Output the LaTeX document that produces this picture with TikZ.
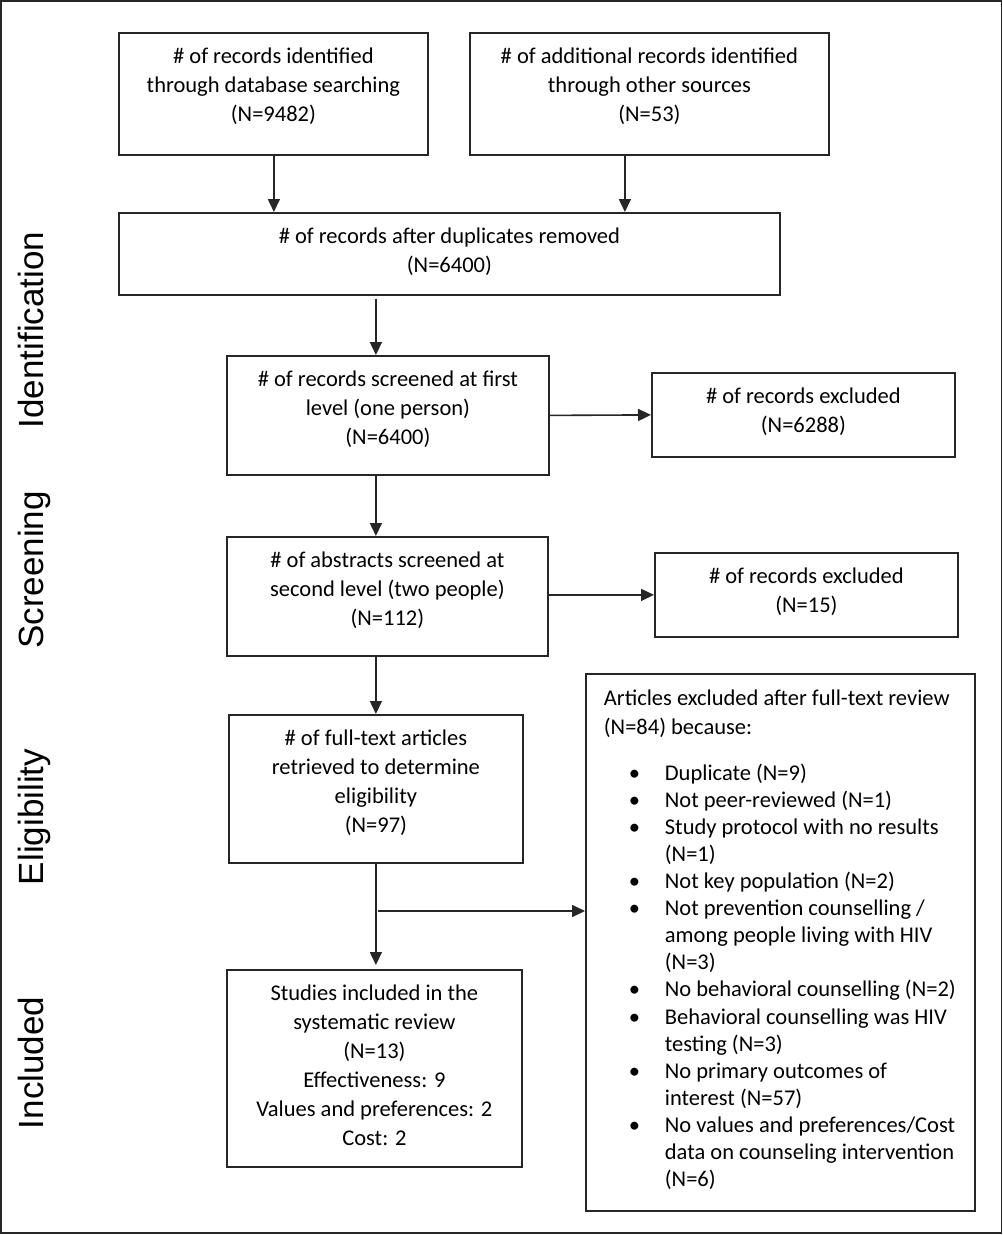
\documentclass[tikz,border=0pt]{standalone}
\usepackage{fontspec}
\setmainfont{Carlito}
\newfontfamily\sidefont{Liberation Sans}
\usetikzlibrary{arrows.meta,calc}
\newcommand\bxt[4]{\begin{minipage}[t][#2][t]{#1}\fontsize{22.5}{29}\selectfont\centering\vspace*{#3}\strut #4\end{minipage}}
\newcommand\bul{\makebox[36pt][l]{•}}
\begin{document}
\begin{tikzpicture}[x=1pt,y=-1pt,
  frame/.style={draw=black!85,line width=1.8pt},
  box/.style={draw=black!85,line width=1.8pt,rectangle,inner sep=0pt,anchor=north west},
  arr/.style={draw=black!85,line width=1.6pt,-{Triangle[length=13pt,width=12pt]}},
  side/.style={font=\sidefont\fontsize{35}{40}\selectfont,rotate=90,anchor=base,inner sep=0pt}]
\useasboundingbox (0,0) rectangle (1003,1235);
\draw[frame] (1,1) rectangle (1001.5,1233);
% side labels
\node[side] (lid) at (43,330) {Identification};
\node[side] (lsc) at (43,570) {Screening};
\node[side] (lel) at (43,817) {Eligibility};
\node[side] (lin) at (43,1063) {Included};
% boxes
\node[box] (b1) at (118,32) {\bxt{309pt}{122pt}{10pt}{\# of records identified\\through database searching\\(N=9482)}};
\node[box] (b2) at (469,32) {\bxt{359pt}{122pt}{10pt}{\# of additional records identified\\through other sources\\(N=53)}};
\node[box] (b3) at (118,212) {\bxt{661pt}{82pt}{10pt}{\# of records after duplicates removed\\(N=6400)}};
\node[box] (b4) at (226,355) {\bxt{322pt}{119pt}{10pt}{\# of records screened at first\\level (one person)\\(N=6400)}};
\node[box] (e1) at (651,372) {\bxt{303pt}{84pt}{10pt}{\# of records excluded\\(N=6288)}};
\node[box] (b5) at (226,536) {\bxt{321pt}{119pt}{10.5pt}{\# of abstracts screened at\\second level (two people)\\(N=112)}};
\node[box] (e2) at (654,552) {\bxt{303pt}{84pt}{10pt}{\# of records excluded\\(N=15)}};
\node[box] (b6) at (228,714) {\bxt{294pt}{148pt}{10.5pt}{\# of full-text articles\\retrieved to determine\\eligibility\\(N=97)}};
\node[box] (b7) at (226,969) {\bxt{295pt}{197pt}{10.5pt}{Studies included in the\\systematic review\\(N=13)\\Effectiveness: 9\\Values and preferences: 2\\Cost: 2}};
\node[box] (ar) at (585,673) {\begin{minipage}[t][537pt][t]{389pt}\fontsize{22.5}{28.6}\selectfont\raggedright
\vspace*{11.5pt}\hspace*{18pt}\strut Articles excluded after full-text review\\
\hspace*{18pt}(N=84) because:\par
\vspace{19pt}
\fontsize{22.5}{27.1}\selectfont
\begin{list}{}{\leftmargin=79pt\labelwidth=36pt\labelsep=0pt\itemsep=0pt\parsep=0pt\topsep=0pt\partopsep=0pt\rightmargin=0pt}
\item[\bul] Duplicate (N=9)
\item[\bul] Not peer-reviewed (N=1)
\item[\bul] Study protocol with no results\newline (N=1)
\item[\bul] Not key population (N=2)
\item[\bul] Not prevention counselling /\newline among people living with HIV\newline (N=3)
\item[\bul] No behavioral counselling (N=2)
\item[\bul] Behavioral counselling was HIV\newline testing (N=3)
\item[\bul] No primary outcomes of\newline interest (N=57)
\item[\bul] No values and preferences/Cost\newline data on counseling intervention\newline (N=6)
\end{list}
\end{minipage}};
% connectors
\draw[arr] ([xshift=0.5pt]b1.south) -- ([xshift=0.5pt]b1.south |- b3.north);
\draw[arr] ([xshift=-24.5pt]b2.south) -- ([xshift=-24.5pt]b2.south |- b3.north);
\draw[arr] ([yshift=-3pt]b3.south -| b6.north) -- (b4.north -| b6.north);
\draw[arr] (b4.east) -- (e1.west);
\draw[arr] (b4.south -| b6.north) -- (b5.north -| b6.north);
\draw[arr] (b5.east |- e2.west) -- (e2.west);
\draw[arr] (b5.south -| b6.north) -- (b6.north);
\draw[arr] (b6.south) -- ([yshift=4pt]b7.north -| b6.south);
\coordinate (br) at (378,911);
\draw[arr] (br) -- (br -| ar.west);
\end{tikzpicture}
\end{document}
